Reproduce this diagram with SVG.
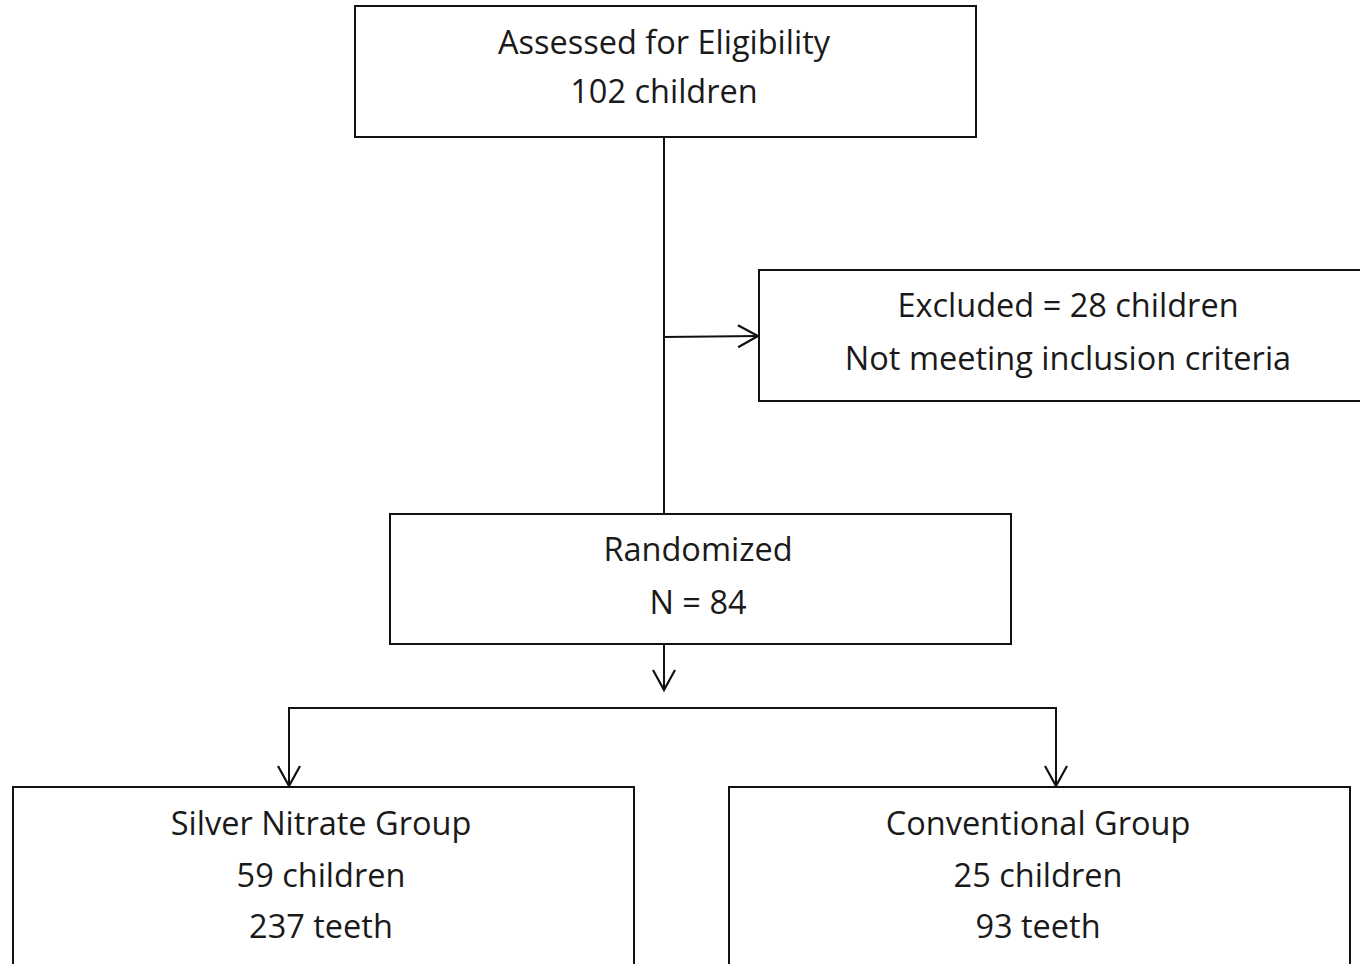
<svg xmlns="http://www.w3.org/2000/svg" width="1360" height="964" viewBox="0 0 1360 964">
<style>
.box{fill:#fff;stroke:#111;stroke-width:2}
.t{font-family:"Open Sans","Liberation Sans",sans-serif;font-size:32.5px;fill:#1a1a1a;text-anchor:middle;dominant-baseline:central}
.c{fill:none;stroke:#111;stroke-width:2}
</style>
<defs>
<marker id="arr" markerUnits="userSpaceOnUse" markerWidth="30" markerHeight="30" refX="22" refY="12" orient="auto">
<path d="M2,1 L22,12 L2,23" fill="none" stroke="#111" stroke-width="2.2"/>
</marker>
</defs>
<rect width="1360" height="964" fill="#fff"/>
<g id="connectors">
<line class="c" x1="664" y1="137" x2="664" y2="514"/>
<line class="c" x1="664" y1="337" x2="758" y2="336" marker-end="url(#arr)"/>
<line class="c" x1="664" y1="644" x2="664" y2="690" marker-end="url(#arr)"/>
<polyline class="c" points="664,708 1056,708 1056,786" marker-end="url(#arr)"/>
<polyline class="c" points="664,708 289,708 289,786" marker-end="url(#arr)"/>
</g>
<g id="assessed">
<rect class="box" x="355" y="6" width="621" height="131"/>
<text class="t" x="664" y="41">Assessed for Eligibility</text>
<text class="t" x="664" y="90">102 children</text>
</g>
<g id="excluded">
<rect class="box" x="759" y="270" width="620" height="131"/>
<text class="t" x="1068" y="304">Excluded = 28 children</text>
<text class="t" x="1068" y="357">Not meeting inclusion criteria</text>
</g>
<g id="randomized">
<rect class="box" x="390" y="514" width="621" height="130"/>
<text class="t" x="698" y="548">Randomized</text>
<text class="t" x="698" y="601">N = 84</text>
</g>
<g id="silver">
<rect class="box" x="13" y="787" width="621" height="200"/>
<text class="t" x="321" y="822">Silver Nitrate Group</text>
<text class="t" x="321" y="874">59 children</text>
<text class="t" x="321" y="925">237 teeth</text>
</g>
<g id="conventional">
<rect class="box" x="729" y="787" width="621" height="200"/>
<text class="t" x="1038" y="822">Conventional Group</text>
<text class="t" x="1038" y="874">25 children</text>
<text class="t" x="1038" y="925">93 teeth</text>
</g>
</svg>
